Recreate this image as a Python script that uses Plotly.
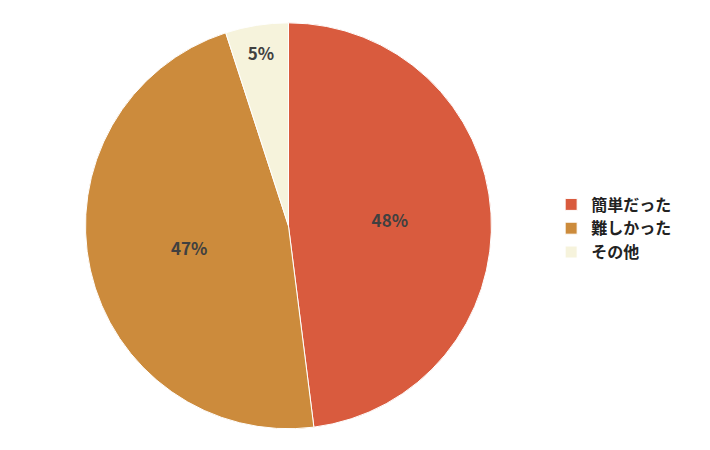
import plotly.graph_objects as go

labels = ["簡単だった", "難しかった", "その他"]
values = [48, 47, 5]
colors = ["#D95B3E", "#CC8B3C", "#F6F3DC"]

fig = go.Figure(go.Pie(
    labels=labels,
    values=values,
    sort=False,
    direction="clockwise",
    rotation=0,
    marker=dict(colors=colors, line=dict(color="white", width=1)),
    texttemplate="<b>%{percent:.0%}</b>",
    textposition="inside",
    insidetextorientation="horizontal",
    textfont=dict(size=17, color="#404040"),
    domain=dict(x=[0.109, 0.681], y=[0.065, 0.967]),
    hoverinfo="label+percent",
))

fig.update_layout(
    width=710, height=450,
    margin=dict(l=0, r=0, t=0, b=0),
    paper_bgcolor="white",
    font=dict(family="Noto Sans CJK JP, sans-serif"),
    legend=dict(
        x=0.765, y=0.51, xanchor="left", yanchor="middle",
        font=dict(size=16, color="#222222", weight="bold"),
        itemwidth=30,
    ),
)

fig.write_html("out.html")
